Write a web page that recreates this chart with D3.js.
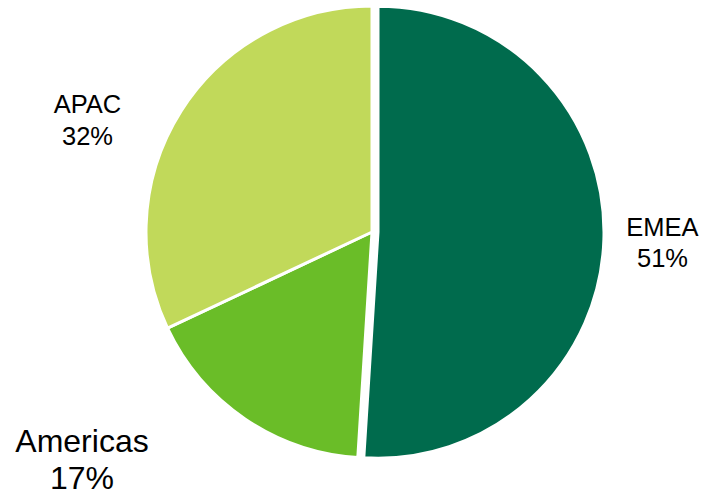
<!DOCTYPE html>
<html>
<head>
<meta charset="utf-8">
<script src="https://cdn.jsdelivr.net/npm/d3@7"></script>
<style>
html,body{margin:0;padding:0;background:#fff;}
svg{display:block;}
text{font-family:"Liberation Sans",Arial,sans-serif;fill:#000;}
</style>
</head>
<body>
<svg id="chart" width="701" height="493"></svg>
<script>
const categories = ["EMEA", "Americas", "APAC"];
const values = [51, 17, 32];
const colors = ["#006b4d", "#6abd28", "#c1d95a"];

// layout (not data)
const W = 701, H = 493;
const cx = 372, cy = 232, R = 226;
const explode = [6, 0, 0];
const labelLayout = [
  {x: 662.5, y1: 236, y2: 267, size: 25.5},
  {x: 82, y1: 452, y2: 489, size: 32},
  {x: 87.5, y1: 113, y2: 145, size: 25.5}
];

const svg = d3.select("#chart");
const data = categories.map((c, i) => ({cat: c, value: values[i], i}));
const pie = d3.pie().value(d => d.value).sort(null).startAngle(0).endAngle(2 * Math.PI);
const arc = d3.arc().innerRadius(0).outerRadius(R);
const arcs = pie(data);

const g = svg.append("g").attr("transform", `translate(${cx},${cy})`);
g.selectAll("path").data(arcs).enter().append("path")
  .attr("d", arc)
  .attr("fill", d => colors[d.data.i])
  .attr("stroke", "#fff")
  .attr("stroke-width", 3)
  .attr("stroke-linejoin", "round")
  .attr("transform", d => {
    const a = (d.startAngle + d.endAngle) / 2;
    const e = explode[d.data.i];
    return `translate(${e * Math.sin(a)},${-e * Math.cos(a)})`;
  });

const lab = svg.selectAll("g.lab").data(arcs).enter().append("g").attr("class", "lab");
lab.append("text")
  .attr("x", d => labelLayout[d.data.i].x)
  .attr("y", d => labelLayout[d.data.i].y1)
  .attr("text-anchor", "middle")
  .style("font-size", d => labelLayout[d.data.i].size + "px")
  .text(d => d.data.cat);
lab.append("text")
  .attr("x", d => labelLayout[d.data.i].x)
  .attr("y", d => labelLayout[d.data.i].y2)
  .attr("text-anchor", "middle")
  .style("font-size", d => labelLayout[d.data.i].size + "px")
  .text(d => d3.format(".0f")(d.data.value) + "%");
</script>
</body>
</html>
